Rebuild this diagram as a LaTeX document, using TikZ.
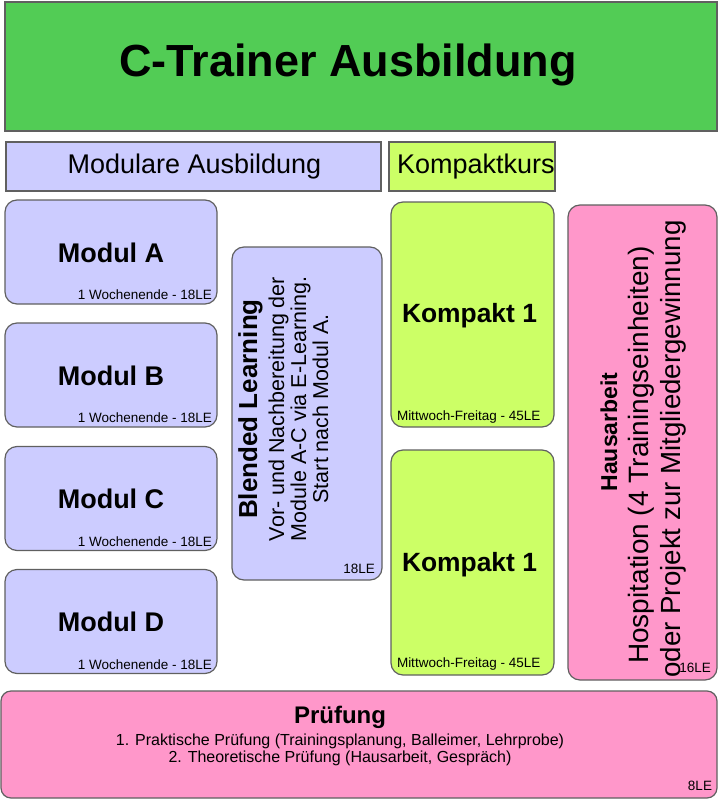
\documentclass[tikz,border=0pt]{standalone}
\usepackage{fontspec}
\setmainfont{Liberation Sans}
\newcommand{\myfs}[1]{\fontsize{#1}{#1}\selectfont}
\definecolor{titlegreen}{HTML}{52CC55}
\definecolor{lav}{HTML}{CCCCFF}
\definecolor{limeg}{HTML}{CCFF66}
\definecolor{pinkb}{HTML}{FF97CA}
\definecolor{bordergray}{HTML}{606060}
\begin{document}
\begin{tikzpicture}[x=1pt,y=-1pt,
  boxbase/.style={draw=bordergray, line width=1.2pt, inner sep=0pt, outer sep=0pt},
  sqbox/.style={boxbase},
  rbox/.style={boxbase, rounded corners=12pt},
  lbl/.style={inner sep=0pt, outer sep=0pt, anchor=base},
  lblr/.style={inner sep=0pt, outer sep=0pt, anchor=base east},
  lbll/.style={inner sep=0pt, outer sep=0pt, anchor=base west},
  rot/.style={inner sep=0pt, outer sep=0pt, anchor=base, rotate=90},
  bigbold/.style={font=\myfs{27}\bfseries},
  small/.style={font=\myfs{13.5}}
]
\useasboundingbox (0,0) rectangle (718,800);

% boxes
\node[sqbox, fill=titlegreen, minimum width=712pt, minimum height=129pt] (title) at (361,66.5) {};
\node[sqbox, fill=lav, minimum width=375pt, minimum height=49pt] (modhead) at (193.5,166.5) {};
\node[sqbox, fill=limeg, minimum width=166pt, minimum height=49pt] (kkhead) at (472,166.5) {};

\node[rbox, fill=lav, minimum width=212pt, minimum height=104pt] (modA) at (111,252) {};
\node[rbox, fill=lav, minimum width=212pt, minimum height=104pt] (modB) at (111,375) {};
\node[rbox, fill=lav, minimum width=212pt, minimum height=104pt] (modC) at (111,498.5) {};
\node[rbox, fill=lav, minimum width=212pt, minimum height=104pt] (modD) at (111,621.5) {};

\node[rbox, fill=lav, minimum width=150pt, minimum height=333pt] (blend) at (307,413.5) {};

\node[rbox, fill=limeg, minimum width=163pt, minimum height=225pt] (kp1) at (472.5,314.5) {};
\node[rbox, fill=limeg, minimum width=163pt, minimum height=225pt] (kp2) at (472.5,562.5) {};

\node[rbox, fill=pinkb, minimum width=149pt, minimum height=475pt] (haus) at (642.5,442.5) {};

\node[rbox, rounded corners=10pt, fill=pinkb, minimum width=716pt, minimum height=107pt] (pruef) at (359,744.5) {};

% texts
\node[lbl, font=\myfs{45}\bfseries] (ttitle) at (348,76) {C-Trainer Ausbildung};
\node[lbl, font=\myfs{27}] (tmodhead) at (194.5,173) {Modulare Ausbildung};
\node[lbll, font=\myfs{27}] (tkkhead) at (397,173) {Kompaktkurs};

\node[lbl, bigbold] (tA) at (111,262) {Modul A};
\node[lbl, bigbold] (tB) at (111,385) {Modul B};
\node[lbl, bigbold] (tC) at (111,508.5) {Modul C};
\node[lbl, bigbold] (tD) at (111,631.5) {Modul D};
\node[lblr, small] (sA) at (212,299.5) {1 Wochenende - 18LE};
\node[lblr, small] (sB) at (212,422.5) {1 Wochenende - 18LE};
\node[lblr, small] (sC) at (212,546) {1 Wochenende - 18LE};
\node[lblr, small] (sD) at (212,669) {1 Wochenende - 18LE};

\node[rot, font=\myfs{26}\bfseries] (bl1) at (257,409) {Blended Learning};
\node[rot, font=\myfs{21.5}] (bl2) at (284,409) {Vor- und Nachbereitung der};
\node[rot, font=\myfs{21.5}] (bl3) at (306,409) {Module A-C via E-Learning.};
\node[rot, font=\myfs{21.5}] (bl4) at (328,409) {Start nach Modul A.};
\node[lblr, small] (bl5) at (375,573) {18LE};

\node[lbl, font=\myfs{26.4}\bfseries] (tk1) at (469.5,322.5) {Kompakt 1};
\node[lbl, font=\myfs{26.4}\bfseries] (tk2) at (469.5,571.5) {Kompakt 1};
\node[lbll, small] (sk1) at (397,420) {Mittwoch-Freitag - 45LE};
\node[lbll, small] (sk2) at (397,667) {Mittwoch-Freitag - 45LE};

\node[rot, font=\myfs{23}\bfseries] (h1) at (617,432) {Hausarbeit};
\node[rot, font=\myfs{28}] (h2) at (648,455) {Hospitation (4 Trainingseinheiten)};
\node[rot, font=\myfs{27.7}] (h3) at (680,449) {oder Projekt zur Mitgliedergewinnung};
\node[lblr, small] (h4) at (711,672) {16LE};

\node[lbl, font=\myfs{24}\bfseries] (p1) at (340,723) {Prüfung};
\node[lbl, font=\myfs{16}] (p2) at (340,745) {1. Praktische Prüfung (Trainingsplanung, Balleimer, Lehrprobe)};
\node[lbl, font=\myfs{16}] (p3) at (340,762.5) {2. Theoretische Prüfung (Hausarbeit, Gespräch)};
\node[lblr, small] (p4) at (712,790) {8LE};
\end{tikzpicture}
\end{document}
